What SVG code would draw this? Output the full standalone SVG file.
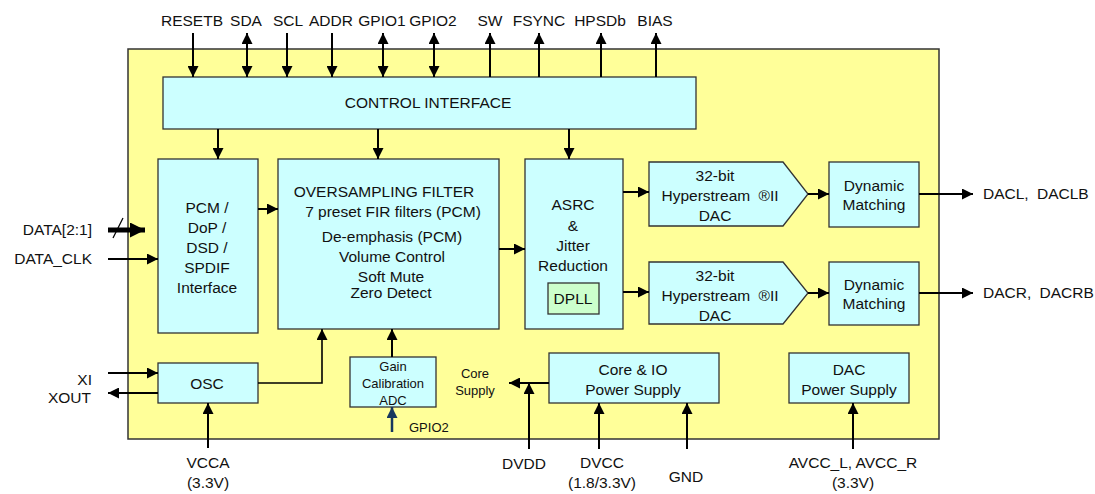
<svg xmlns="http://www.w3.org/2000/svg" width="1095" height="494" viewBox="0 0 1095 494">
<style>
text{font-family:"Liberation Sans",Arial,sans-serif;font-size:15.5px;fill:#111;text-anchor:middle}
.sm{font-size:13px}
.r{text-anchor:end}
.l{text-anchor:start}
.box{fill:#ccffff;stroke:#333;stroke-width:1.3}
.w{stroke:#000;stroke-width:2;fill:none}
</style>
<defs>
<marker id="ah" markerUnits="userSpaceOnUse" markerWidth="12" markerHeight="11" refX="11" refY="5.5" orient="auto-start-reverse"><path d="M0,0L11,5.5L0,11z" fill="#000"/></marker>
<marker id="ahb" markerUnits="userSpaceOnUse" markerWidth="12" markerHeight="11" refX="11" refY="5.5" orient="auto"><path d="M0,0L11,5.5L0,11z" fill="#17375e"/></marker>
<marker id="ahbig" markerUnits="userSpaceOnUse" markerWidth="16" markerHeight="15" refX="15" refY="7.5" orient="auto"><path d="M0,0L15,7.5L0,15z" fill="#000"/></marker>
</defs>
<g id="chip"><rect x="128" y="49" width="811" height="390" fill="#ffff99" stroke="#333" stroke-width="1.5"/></g>
<g id="control"><rect class="box" x="163" y="77" width="533" height="52"/><text x="428" y="108">CONTROL INTERFACE</text></g>
<g id="pcm"><rect class="box" x="158" y="159" width="100" height="174"/>
<text x="207" y="213">PCM /</text><text x="207" y="233">DoP /</text><text x="207" y="253">DSD /</text><text x="207" y="273">SPDIF</text><text x="207" y="293">Interface</text></g>
<g id="filter"><rect class="box" x="278" y="159" width="221" height="170"/>
<text x="384" y="197">OVERSAMPLING FILTER</text><text x="393" y="217">7 preset FIR filters (PCM)</text><text x="392" y="242">De-emphasis (PCM)</text><text x="392" y="262">Volume Control</text><text x="391" y="282">Soft Mute</text><text x="391" y="298">Zero Detect</text></g>
<g id="asrc"><rect class="box" x="525" y="159" width="98" height="170"/>
<text x="573" y="210">ASRC</text><text x="573" y="231">&amp;</text><text x="573" y="251">Jitter</text><text x="573" y="271">Reduction</text>
<g id="dpll"><rect x="548" y="283" width="51" height="31" fill="#ccffcc" stroke="#333" stroke-width="1.3"/><text x="573" y="304">DPLL</text></g></g>
<g id="dac1"><path class="box" d="M649,162H783L808,194L783,226H649z"/><text x="715" y="181">32-bit</text><text x="720" y="201" style="word-spacing:4px">Hyperstream ®II</text><text x="715" y="221">DAC</text></g>
<g id="dac2"><path class="box" d="M649,262H783L808,293L783,324H649z"/><text x="715" y="281">32-bit</text><text x="720" y="301" style="word-spacing:4px">Hyperstream ®II</text><text x="715" y="321">DAC</text></g>
<g id="dm1"><rect class="box" x="829" y="162" width="90" height="65"/><text x="874" y="191">Dynamic</text><text x="874" y="210">Matching</text></g>
<g id="dm2"><rect class="box" x="829" y="262" width="90" height="63"/><text x="874" y="290">Dynamic</text><text x="874" y="309">Matching</text></g>
<g id="osc"><rect class="box" x="158" y="363" width="100" height="40"/><text x="207" y="389">OSC</text></g>
<g id="gain"><rect class="box" x="350" y="357" width="86" height="50"/><text class="sm" x="393" y="371">Gain</text><text class="sm" x="393" y="388">Calibration</text><text class="sm" x="393" y="405">ADC</text></g>
<g id="corepsu"><rect class="box" x="549" y="353" width="170" height="50"/><text x="633" y="375">Core &amp; IO</text><text x="633" y="395">Power Supply</text></g>
<g id="dacpsu"><rect class="box" x="789" y="353" width="120" height="50"/><text x="849" y="375">DAC</text><text x="849" y="395">Power Supply</text></g>
<g id="labels">
<text x="192" y="26">RESETB</text><text x="246" y="26">SDA</text><text x="288" y="26">SCL</text><text x="331" y="26">ADDR</text><text x="382" y="26">GPIO1</text><text x="433" y="26">GPIO2</text><text x="490" y="26">SW</text><text x="539" y="26">FSYNC</text><text x="600" y="26">HPSDb</text><text x="655" y="26">BIAS</text>
<text class="r" x="92" y="235">DATA[2:1]</text><text class="r" x="92" y="264">DATA_CLK</text>
<text class="r" x="92" y="385">XI</text><text class="r" x="91" y="403">XOUT</text>
<text class="l" x="983" y="199" style="word-spacing:4px">DACL, DACLB</text><text class="l" x="983" y="298" style="word-spacing:4px">DACR, DACRB</text>
<text class="sm" x="475" y="378">Core</text><text class="sm" x="475" y="395">Supply</text><text class="sm l" x="409" y="432">GPIO2</text>
<text x="208" y="468">VCCA</text><text x="208" y="488">(3.3V)</text>
<text x="524" y="469">DVDD</text><text x="602" y="468">DVCC</text><text x="602" y="488">(1.8/3.3V)</text><text x="686" y="482">GND</text>
<text x="853" y="468">AVCC_L, AVCC_R</text><text x="853" y="488">(3.3V)</text>
</g>
<g id="connectors">
<path class="w" d="M193,33V77" marker-end="url(#ah)"/>
<path class="w" d="M247,33V77" marker-start="url(#ah)" marker-end="url(#ah)"/>
<path class="w" d="M287,33V77" marker-end="url(#ah)"/>
<path class="w" d="M332,33V77" marker-end="url(#ah)"/>
<path class="w" d="M383,33V77" marker-start="url(#ah)" marker-end="url(#ah)"/>
<path class="w" d="M434,33V77" marker-start="url(#ah)" marker-end="url(#ah)"/>
<path class="w" d="M490,77V33" marker-end="url(#ah)"/>
<path class="w" d="M539,77V33" marker-end="url(#ah)"/>
<path class="w" d="M601,77V33" marker-end="url(#ah)"/>
<path class="w" d="M656,77V33" marker-end="url(#ah)"/>
<path class="w" d="M218,129V159" marker-end="url(#ah)"/>
<path class="w" d="M378,129V159" marker-end="url(#ah)"/>
<path class="w" d="M569,129V159" marker-end="url(#ah)"/>
<path d="M108,230H145" stroke="#000" stroke-width="5" fill="none" marker-end="url(#ahbig)"/>
<path d="M113,238L123,218" stroke="#000" stroke-width="1.2"/>
<path class="w" d="M108,259H158" marker-end="url(#ah)"/>
<path class="w" d="M258,209H278" marker-end="url(#ah)"/>
<path class="w" d="M499,249H525" marker-end="url(#ah)"/>
<path class="w" d="M623,192H649" marker-end="url(#ah)"/>
<path class="w" d="M623,292H649" marker-end="url(#ah)"/>
<path class="w" d="M808,194H829" marker-end="url(#ah)"/>
<path class="w" d="M808,293H829" marker-end="url(#ah)"/>
<path class="w" d="M919,194H973" marker-end="url(#ah)"/>
<path class="w" d="M919,293H973" marker-end="url(#ah)"/>
<path class="w" d="M108,373H158" marker-end="url(#ah)"/>
<path class="w" d="M158,393H108" marker-end="url(#ah)"/>
<path class="w" d="M258,383H322V329" marker-end="url(#ah)" style="stroke-width:1.6"/>
<path class="w" d="M392,357V329" marker-end="url(#ah)"/>
<path d="M392,432V407" stroke="#17375e" stroke-width="2.5" fill="none" marker-end="url(#ahb)"/>
<path class="w" d="M208,448V403" marker-end="url(#ah)"/>
<path class="w" d="M549,383H509" marker-end="url(#ah)"/>
<path class="w" d="M529,449V383" marker-end="url(#ah)"/>
<path class="w" d="M599,449V403" marker-end="url(#ah)"/>
<path class="w" d="M687,449V403" marker-end="url(#ah)"/>
<path class="w" d="M853,449V403" marker-end="url(#ah)"/>
</g>
</svg>
